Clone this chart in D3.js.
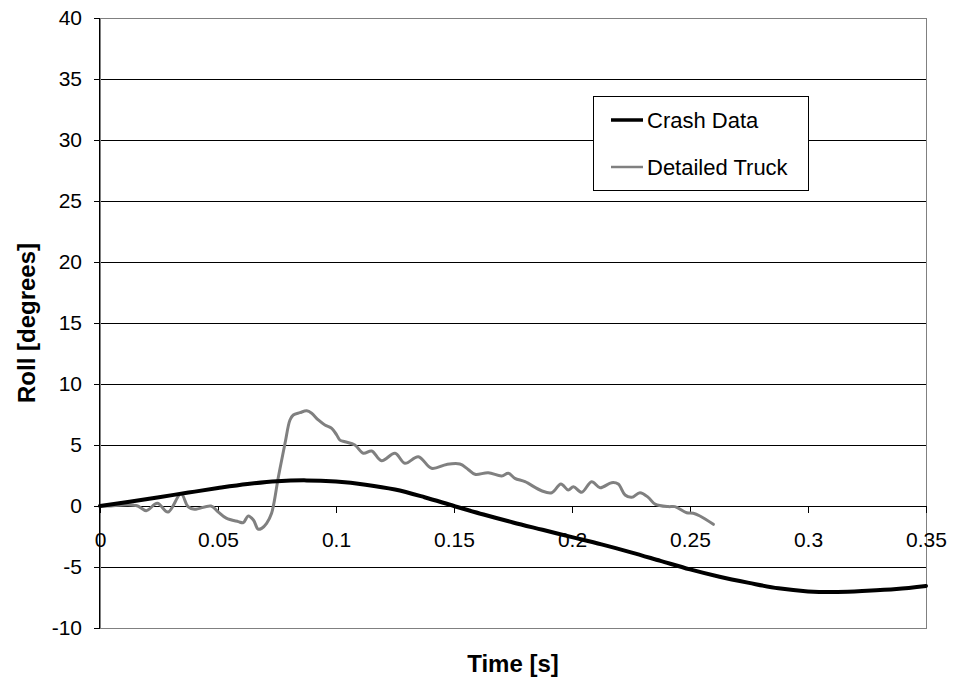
<!DOCTYPE html>
<html>
<head>
<meta charset="utf-8">
<script src="https://cdn.jsdelivr.net/npm/d3@7"></script>
<style>
  body { margin: 0; background: #fff; }
  svg { font-family: Arial, "Liberation Sans", sans-serif; }
</style>
</head>
<body>
<script>
const width = 953;
const height = 684;

// crash test roll angle
const crashTime = [0, 0.0125, 0.025, 0.0375, 0.05, 0.0625, 0.075, 0.0875, 0.1, 0.1125, 0.125, 0.1375, 0.15,
  0.1625, 0.175, 0.1875, 0.2, 0.2125, 0.225, 0.2375, 0.25, 0.2625, 0.275, 0.2875, 0.3, 0.3125, 0.325, 0.3375, 0.35];
const crashRoll = [0, 0.35, 0.72, 1.1, 1.47, 1.8, 2.03, 2.1, 2.0, 1.75, 1.35, 0.72, 0,
  -0.7, -1.35, -1.95, -2.55, -3.15, -3.8, -4.5, -5.2, -5.8, -6.3, -6.75, -7.0, -7.05, -6.95, -6.8, -6.55];

// detailed truck model roll angle
const truckTime = [0, 0.0034, 0.0119, 0.016, 0.0196, 0.0243, 0.0288, 0.0343, 0.0373, 0.040, 0.047, 0.05, 0.0535,
  0.0586, 0.0607, 0.0628, 0.065, 0.067, 0.0685, 0.0706, 0.0727, 0.0756, 0.0784, 0.0805, 0.0819, 0.0847, 0.0876,
  0.0897, 0.0925, 0.0953, 0.0982, 0.1003, 0.1017, 0.1038, 0.108, 0.1116, 0.1151, 0.1193, 0.125, 0.1292, 0.1349,
  0.1405, 0.1469, 0.1525, 0.156, 0.1589, 0.1645, 0.1702, 0.173, 0.1758, 0.1801, 0.1871, 0.1914, 0.1953, 0.1984,
  0.2006, 0.2041, 0.2083, 0.2119, 0.2168, 0.2196, 0.2225, 0.2253, 0.2288, 0.2323, 0.2352, 0.2408, 0.2436, 0.2486,
  0.2514, 0.2542, 0.2599];
const truckRoll = [0, 0, 0.1, 0, -0.38, 0.22, -0.5, 1.0, -0.05, -0.27, 0, -0.47, -1.0,
  -1.28, -1.37, -0.82, -1.15, -1.9, -1.83, -1.42, -0.6, 2.4, 5.14, 7.05, 7.46, 7.65, 7.8,
  7.6, 7.05, 6.64, 6.37, 5.82, 5.4, 5.27, 5.0, 4.32, 4.51, 3.71, 4.32, 3.5, 4.04,
  3.09, 3.41, 3.44, 3.0, 2.6, 2.73, 2.46, 2.68, 2.27, 1.99, 1.25, 1.09, 1.8, 1.31,
  1.58, 1.12, 1.99, 1.5, 1.91, 1.8, 0.9, 0.71, 1.09, 0.71, 0.16, -0.05, -0.05, -0.55,
  -0.6, -0.82, -1.5];

const xTicks = [0, 0.05, 0.1, 0.15, 0.2, 0.25, 0.3, 0.35];
const yTicks = [-10, -5, 0, 5, 10, 15, 20, 25, 30, 35, 40];

const series = [
  { name: "Crash Data", time: crashTime, roll: crashRoll, color: "#000000", width: 4 },
  { name: "Detailed Truck", time: truckTime, roll: truckRoll, color: "#808080", width: 3 }
];

const plotLeft = 100, plotRight = 926, plotTop = 18, plotBottom = 628;

const x = d3.scaleLinear().domain([0, 0.35]).range([plotLeft, plotRight]);
const y = d3.scaleLinear().domain([-10, 40]).range([plotBottom, plotTop]);

const svg = d3.select("body").append("svg").attr("width", width).attr("height", height);

// 网格线
svg.append("g")
  .selectAll("line")
  .data(yTicks.filter(d => d > -10 && d < 40))
  .enter()
  .append("line")
  .attr("x1", plotLeft).attr("x2", plotRight)
  .attr("y1", d => y(d)).attr("y2", d => y(d))
  .attr("stroke", "#000").attr("stroke-width", 1)
  .attr("shape-rendering", "crispEdges");

// plot area border
svg.append("rect")
  .attr("x", plotLeft).attr("y", plotTop)
  .attr("width", plotRight - plotLeft).attr("height", plotBottom - plotTop)
  .attr("fill", "none").attr("stroke", "#808080")
  .attr("shape-rendering", "crispEdges");

// y axis
const yAxis = svg.append("g")
  .attr("transform", `translate(${plotLeft},0)`)
  .call(d3.axisLeft(y).tickValues(yTicks).tickSize(6).tickPadding(12).tickFormat(d => String(d)));
yAxis.select(".domain").attr("stroke", "#000").attr("d", `M-0.5,${plotTop}V${plotBottom}`);
yAxis.selectAll("text").attr("font-size", 21).attr("font-family", "Arial, 'Liberation Sans', sans-serif").attr("fill", "#000");

// x axis crossing at zero
const xAxis = svg.append("g")
  .attr("transform", `translate(0,${y(0)})`)
  .call(d3.axisBottom(x).tickValues(xTicks).tickSize(7).tickPadding(19).tickFormat(d => String(d)));
xAxis.select(".domain").attr("d", `M${plotLeft},0.5H${plotRight}`).attr("stroke", "#000");
xAxis.selectAll("text").attr("font-size", 21).attr("font-family", "Arial, 'Liberation Sans', sans-serif").attr("fill", "#000");

// lines
const line = d3.line().curve(d3.curveCatmullRom);
svg.append("g")
  .selectAll("path")
  .data(series.slice().reverse())
  .enter()
  .append("path")
  .attr("d", s => line(s.time.map((t, i) => [x(t), y(s.roll[i])])))
  .attr("fill", "none")
  .attr("stroke", s => s.color)
  .attr("stroke-width", s => s.width)
  .attr("stroke-linejoin", "round")
  .attr("stroke-linecap", "round");

// legend
const legend = svg.append("g").attr("transform", "translate(593,96)");
legend.append("rect")
  .attr("width", 215).attr("height", 94)
  .attr("fill", "#fff").attr("stroke", "#000")
  .attr("shape-rendering", "crispEdges");
const item = legend.selectAll("g.item")
  .data(series)
  .enter()
  .append("g")
  .attr("class", "item")
  .attr("transform", (d, i) => `translate(0,${24 + i * 47})`);
item.append("line")
  .attr("x1", 18).attr("x2", 50)
  .attr("stroke", d => d.color)
  .attr("stroke-width", (d, i) => i == 0 ? 3.5 : 2.5);
item.append("text")
  .attr("x", 54).attr("dy", "0.35em")
  .attr("font-size", 22)
  .text(d => d.name);

// axis titles
svg.append("text")
  .attr("transform", "translate(35,323) rotate(-90)")
  .attr("text-anchor", "middle")
  .attr("font-size", 24).attr("font-weight", "bold")
  .text("Roll [degrees]");
svg.append("text")
  .attr("x", 513).attr("y", 672)
  .attr("text-anchor", "middle")
  .attr("font-size", 24).attr("font-weight", "bold")
  .text("Time [s]");
</script>
</body>
</html>
